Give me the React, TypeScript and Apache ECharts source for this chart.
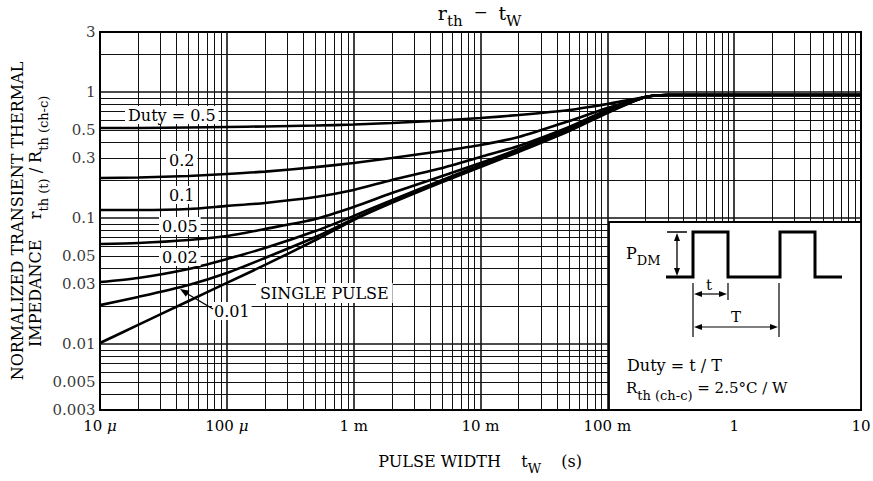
import React, { useEffect, useRef } from "react";
import * as echarts from "echarts";

// ---- data ----
const pulseWidth = [1e-5, 2e-5, 5e-5, 1e-4, 2e-4, 5e-4, 1e-3, 2e-3, 5e-3, 1e-2, 2e-2, 5e-2, 0.1, 0.2, 0.3, 1, 10];
const duty05 = [0.519, 0.519, 0.524, 0.529, 0.534, 0.543, 0.553, 0.569, 0.595, 0.623, 0.658, 0.721, 0.805, 0.915, 0.949, 0.949, 0.949];
const duty02 = [0.208, 0.21, 0.216, 0.224, 0.234, 0.254, 0.274, 0.3, 0.341, 0.38, 0.44, 0.59, 0.748, 0.915, 0.949, 0.949, 0.949];
const duty01 = [0.116, 0.116, 0.118, 0.125, 0.132, 0.147, 0.167, 0.201, 0.25, 0.306, 0.374, 0.529, 0.721, 0.915, 0.949, 0.949, 0.949];
const duty005 = [0.0623, 0.0634, 0.067, 0.0721, 0.082, 0.0984, 0.1225, 0.158, 0.216, 0.274, 0.354, 0.519, 0.708, 0.915, 0.949, 0.949, 0.949];
const duty002 = [0.0311, 0.0335, 0.0395, 0.0474, 0.0579, 0.079, 0.104, 0.139, 0.201, 0.264, 0.347, 0.51, 0.695, 0.915, 0.949, 0.949, 0.949];
const duty001 = [0.0204, 0.0237, 0.0295, 0.0367, 0.0483, 0.0708, 0.0984, 0.134, 0.197, 0.259, 0.341, 0.5, 0.695, 0.915, 0.949, 0.949, 0.949];
const singlePulse = [0.0102, 0.0142, 0.022, 0.0306, 0.0425, 0.067, 0.0966, 0.132, 0.193, 0.254, 0.335, 0.491, 0.683, 0.915, 0.949, 0.949, 0.949];

const curveNames = ["Duty 0.5", "Duty 0.2", "Duty 0.1", "Duty 0.05", "Duty 0.02", "Duty 0.01", "Single pulse"];
const curveValues = [duty05, duty02, duty01, duty005, duty002, duty001, singlePulse];

const xTickValues = [1e-5, 1e-4, 1e-3, 1e-2, 1e-1, 1, 10];
const xTickLabels = ["10 {i|μ}", "100 {i|μ}", "1 m", "10 m", "100 m", "1", "10"];
const yTickValues = [3, 1, 0.5, 0.3, 0.1, 0.05, 0.03, 0.01, 0.005, 0.003];
const yTickLabels = ["3", "1", "0.5", "0.3", "0.1", "0.05", "0.03", "0.01", "0.005", "0.003"];

const X_MIN = xTickValues[0];
const X_MAX = xTickValues[xTickValues.length - 1];
const Y_MIN = yTickValues[yTickValues.length - 1];
const Y_MAX = yTickValues[0];

const FONT = '"DejaVu Serif", "Liberation Serif", serif';

// plot area (pixels)
const PL = 100, PT = 32, PR = 861, PB = 410;

function buildGridLines() {
  const lines: any[] = [];
  for (let e = -5; e <= 0; e++) {
    for (let k = 1; k <= 9; k++) {
      const v = Number((k * Math.pow(10, e)).toPrecision(6));
      if (v <= X_MIN * 1.0001 || v >= X_MAX * 0.9999) continue;
      lines.push({ xAxis: v, lineStyle: { color: "#111", width: k === 1 ? 1.6 : 1, type: "solid" } });
    }
  }
  for (let e = -3; e <= 0; e++) {
    for (let k = 1; k <= 9; k++) {
      const v = Number((k * Math.pow(10, e)).toPrecision(6));
      if (v <= Y_MIN * 1.0001 || v >= Y_MAX * 0.9999) continue;
      lines.push({ yAxis: v, lineStyle: { color: "#111", width: k === 1 ? 1.6 : 1, type: "solid" } });
    }
  }
  return lines;
}

function label(x: number, y: number, text: string, extra: any = {}) {
  return {
    type: "text",
    x,
    y,
    z: 30,
    silent: true,
    style: {
      text,
      fill: "#000",
      font: `16px ${FONT}`,
      align: "left",
      verticalAlign: "middle",
      ...extra,
    },
  };
}

function seg(x1: number, y1: number, x2: number, y2: number, w = 1.3) {
  return { type: "line", z: 32, silent: true, shape: { x1, y1, x2, y2 }, style: { stroke: "#000", lineWidth: w } };
}
function tri(pts: number[][]) {
  return { type: "polygon", z: 33, silent: true, shape: { points: pts }, style: { fill: "#000" } };
}

const subRich = {
  a: { fontSize: 16, fontFamily: FONT, lineHeight: 16, verticalAlign: "top" },
  s: { fontSize: 13, fontFamily: FONT, lineHeight: 13, verticalAlign: "bottom" },
  sp: { fontSize: 2, fontFamily: FONT, lineHeight: 22 },
};

function buildGraphics() {
  const g: any[] = [];
  // title
  g.push({
    type: "text",
    x: 480,
    y: 16,
    z: 30,
    silent: true,
    style: {
      text: "{r|r}{s|th}{m|  −  }{r|t}{s|W}{sp| }",
      fill: "#000",
      align: "center",
      verticalAlign: "middle",
      rich: {
        r: { fontSize: 19, fontFamily: FONT, lineHeight: 18, verticalAlign: "top" },
        m: { fontSize: 17, fontFamily: FONT, lineHeight: 18, verticalAlign: "top" },
        s: { fontSize: 15, fontFamily: FONT, lineHeight: 14, verticalAlign: "bottom" },
        sp: { fontSize: 2, fontFamily: FONT, lineHeight: 25 },
      },
    },
  });

  // curve labels with white boxes
  const box = { backgroundColor: "#fff", padding: [1, 3, 1, 3] };
  g.push(label(125, 115, "Duty = 0.5", box));
  g.push(label(166, 160, "0.2", box));
  g.push(label(166, 195, "0.1", box));
  g.push(label(159, 226, "0.05", box));
  g.push(label(159, 257, "0.02", box));
  g.push(label(256, 293, "SINGLE PULSE", { ...box, padding: [2, 4, 2, 4] }));
  g.push(label(212, 311, "0.01", { ...box, padding: [1, 2, 1, 2] }));
  // arrow to 0.01 curve
  g.push(seg(213, 309, 186, 293, 1.4));
  g.push(tri([[180, 289], [189.5, 290.7], [185.9, 296.7]]));

  // inset box
  g.push({
    type: "rect",
    z: 25,
    silent: true,
    shape: { x: 609, y: 222, width: PR - 609, height: PB - 222 },
    style: { fill: "#fff", stroke: "#000", lineWidth: 1.8 },
  });
  // waveform
  g.push({
    type: "polyline",
    z: 32,
    silent: true,
    shape: {
      points: [
        [666, 277], [693, 277], [693, 232], [728, 232], [728, 277],
        [780, 277], [780, 232], [815, 232], [815, 277], [842, 277],
      ],
    },
    style: { stroke: "#000", lineWidth: 3, fill: null },
  });
  // P_DM dimension
  g.push(seg(667, 232, 687, 232, 1.5));
  g.push(seg(677, 238, 677, 271, 1.3));
  g.push(tri([[677, 233], [674, 241], [680, 241]]));
  g.push(tri([[677, 276], [674, 268], [680, 268]]));
  g.push({
    type: "text",
    x: 626,
    y: 256,
    z: 30,
    silent: true,
    style: { text: "{a|P}{s|DM}{sp| }", fill: "#000", align: "left", verticalAlign: "middle", rich: subRich },
  });
  // t dimension
  g.push(seg(693, 283, 693, 337, 1.2));
  g.push(seg(728, 283, 728, 300, 1.2));
  g.push(seg(779, 283, 779, 337, 1.2));
  g.push(seg(700, 294, 721, 294, 1.2));
  g.push(tri([[694, 294], [702, 291], [702, 297]]));
  g.push(tri([[727, 294], [719, 291], [719, 297]]));
  g.push(label(706, 285, "t", { font: `15px ${FONT}` }));
  // T dimension
  g.push(seg(700, 327, 772, 327, 1.2));
  g.push(tri([[694, 327], [702, 324], [702, 330]]));
  g.push(tri([[778, 327], [770, 324], [770, 330]]));
  g.push(label(731, 317, "T", { font: `15px ${FONT}` }));
  // inset texts
  g.push(label(627, 365, "Duty = t / T"));
  g.push({
    type: "text",
    x: 626,
    y: 391,
    z: 30,
    silent: true,
    style: {
      text: "{a|R}{s|th (ch-c)}{a| = 2.5°C / W}{sp| }",
      fill: "#000",
      align: "left",
      verticalAlign: "middle",
      rich: {
        a: { fontSize: 15, fontFamily: FONT, lineHeight: 16, verticalAlign: "top" },
        s: { fontSize: 13, fontFamily: FONT, lineHeight: 13, verticalAlign: "bottom" },
        sp: { fontSize: 2, fontFamily: FONT, lineHeight: 22 },
      },
    },
  });
  return g;
}

function buildOption(): any {
  const curves = curveValues.map((vals, i) => ({
    name: curveNames[i],
    type: "line",
    data: pulseWidth.map((t, j) => [t, vals[j]]),
    symbol: "none",
    showSymbol: false,
    smooth: 0.25,
    silent: true,
    z: 5,
    lineStyle: { color: "#000", width: 2.6 },
  }));

  return {
    animation: false,
    backgroundColor: "#fff",
    textStyle: { fontFamily: FONT },
    grid: {
      left: PL,
      top: PT,
      right: 873 - PR,
      bottom: 481 - PB,
      show: true,
      borderColor: "#000",
      borderWidth: 2,
      backgroundColor: "#fff",
      containLabel: false,
      outerBoundsMode: "none",
    },
    xAxis: {
      type: "log",
      logBase: 10,
      min: X_MIN,
      max: X_MAX,
      splitNumber: 6,
      axisLine: { show: true, lineStyle: { color: "#000", width: 2 } },
      axisTick: { show: false },
      splitLine: { show: false },
      minorSplitLine: { show: false },
      axisLabel: {
        color: "#000",
        fontFamily: FONT,
        fontSize: 15,
        margin: 8,
        formatter: (v: number) => {
          const e = Math.round(Math.log10(v));
          const idx = xTickValues.findIndex((t) => Math.round(Math.log10(t)) === e);
          return idx >= 0 ? xTickLabels[idx] : "";
        },
        rich: { i: { fontFamily: FONT, fontSize: 15, fontStyle: "italic", color: "#000" } },
      },
      name: "{a|PULSE WIDTH}{g|    }{a|t}{s|W}{g|    }{a|(s)}{sp| }",
      nameLocation: "middle",
      nameGap: 43,
      nameTextStyle: {
        color: "#000",
        rich: {
          a: { fontSize: 16, fontFamily: FONT, lineHeight: 16, verticalAlign: "top", color: "#000" },
          g: { fontSize: 16, fontFamily: FONT, lineHeight: 16, verticalAlign: "top" },
          s: { fontSize: 13, fontFamily: FONT, lineHeight: 13, verticalAlign: "bottom", color: "#000" },
          sp: { fontSize: 2, fontFamily: FONT, lineHeight: 22 },
        },
      },
    },
    yAxis: {
      type: "log",
      logBase: 10,
      min: Y_MIN,
      max: Y_MAX,
      axisLine: { show: true, lineStyle: { color: "#000", width: 2 } },
      axisTick: { show: false },
      splitLine: { show: false },
      axisLabel: { show: false },
      name:
        "{a|NORMALIZED TRANSIENT THERMAL}\n{a|IMPEDANCE}{g|    }{a|r}{s|th (t)}{a| / R}{s|th (ch-c)}{sp| }",
      nameLocation: "middle",
      nameRotate: 90,
      nameGap: 50,
      nameTextStyle: {
        color: "#000",
        align: "center",
        rich: {
          a: { fontSize: 16, fontFamily: FONT, lineHeight: 18, verticalAlign: "top", color: "#000" },
          g: { fontSize: 16, fontFamily: FONT, lineHeight: 18, verticalAlign: "top" },
          s: { fontSize: 13, fontFamily: FONT, lineHeight: 13, verticalAlign: "bottom", color: "#000" },
          sp: { fontSize: 2, fontFamily: FONT, lineHeight: 23 },
        },
      },
    },
    series: [
      {
        name: "grid",
        type: "line",
        data: [[X_MIN, Y_MAX]],
        symbol: "none",
        silent: true,
        z: 1,
        lineStyle: { opacity: 0 },
        markLine: {
          silent: true,
          symbol: ["none", "none"],
          precision: 12,
          label: { show: false },
          animation: false,
          z: 1,
          data: buildGridLines(),
        },
      },
      {
        name: "yLabels",
        type: "scatter",
        silent: true,
        clip: false,
        z: 6,
        symbol: "circle",
        symbolSize: 1,
        itemStyle: { color: "rgba(0,0,0,0)" },
        data: yTickValues.map((v, i) => ({
          value: [X_MIN, v],
          label: { formatter: yTickLabels[i] },
        })),
        label: {
          show: true,
          position: "left",
          distance: 4,
          color: "#000",
          fontFamily: FONT,
          fontSize: 15,
        },
      },
      ...curves,
    ],
    graphic: buildGraphics(),
  };
}

export default function App() {
  const ref = useRef<HTMLDivElement>(null);
  useEffect(() => {
    if (!ref.current) return;
    const chart = echarts.init(ref.current, null, { renderer: "svg" });
    chart.setOption(buildOption());
    return () => chart.dispose();
  }, []);
  return (
    <div
      ref={ref}
      style={{ position: "fixed", left: 0, top: 0, width: 873, height: 481, background: "#fff" }}
    />
  );
}
